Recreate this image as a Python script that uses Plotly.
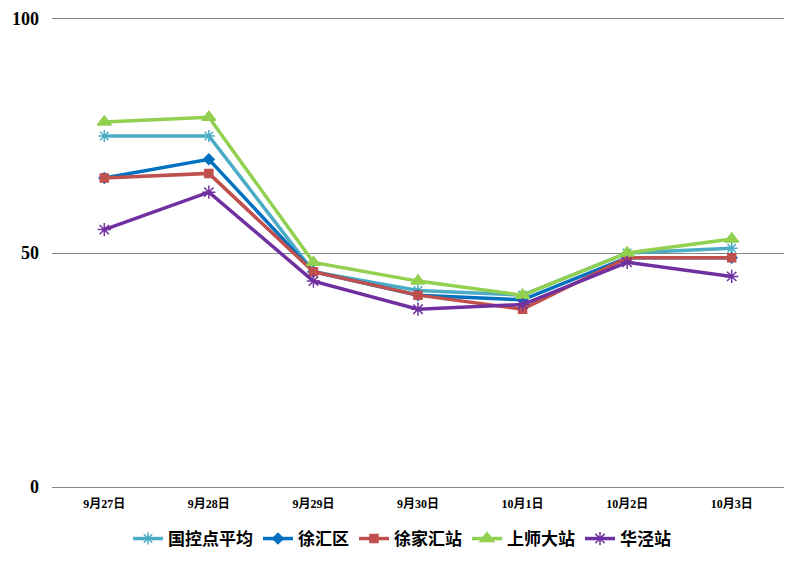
import plotly.graph_objects as go

dates = ["9月27日", "9月28日", "9月29日", "9月30日", "10月1日", "10月2日", "10月3日"]
guokong = [75, 75, 46, 42, 41, 50, 51]
xuhui = [66, 70, 46, 41, 40, 49, 49]
xujiahui = [66, 67, 46, 41, 38, 49, 49]
shangshida = [78, 79, 48, 44, 41, 50, 53]
huajing = [55, 63, 44, 38, 39, 48, 45]

series = [
    ("国控点平均", guokong, "#4BACC6", "asterisk-open", 10),
    ("徐汇区", xuhui, "#0070C0", "diamond", 8),
    ("徐家汇站", xujiahui, "#C0504D", "square", 8),
    ("上师大站", shangshida, "#92D050", "triangle-up", 12),
    ("华泾站", huajing, "#7030A0", "asterisk-open", 11),
]

fig = go.Figure()
for name, vals, color, sym, size in series:
    fig.add_trace(go.Scatter(
        x=dates, y=vals, name=name, mode="lines+markers",
        line=dict(color=color, width=3.5),
        marker=dict(symbol=sym, size=size, color=color, line=dict(color=color, width=1.5)),
    ))

fig.update_layout(
    width=804, height=566,
    margin=dict(l=52, r=20, t=17, b=77),
    plot_bgcolor="white", paper_bgcolor="white",
    showlegend=True,
    legend=dict(orientation="h", xref="container", yref="container",
                x=0.5, xanchor="center", y=1 - 539 / 566, yanchor="middle",
                font=dict(family="Noto Sans CJK SC", size=17, color="black", weight="bold"),
                itemwidth=30, tracegroupgap=0),
    xaxis=dict(showgrid=False, showline=False, zeroline=False, ticks="", automargin=False,
               range=[-0.5, 6.5], ticklabelstandoff=6,
               tickfont=dict(family="Liberation Serif, Noto Sans CJK SC", size=12,
                             color="black", weight="bold")),
    yaxis=dict(range=[-0.4, 100.4], tickvals=[0, 50, 100], showgrid=True, gridcolor="#888888",
               gridwidth=1, zeroline=False,
               showline=False, ticks="", automargin=False,
               tickfont=dict(family="Liberation Serif", size=18, color="black", weight="bold"),
               ticklabelstandoff=12),
)
fig.write_html("out.html")
